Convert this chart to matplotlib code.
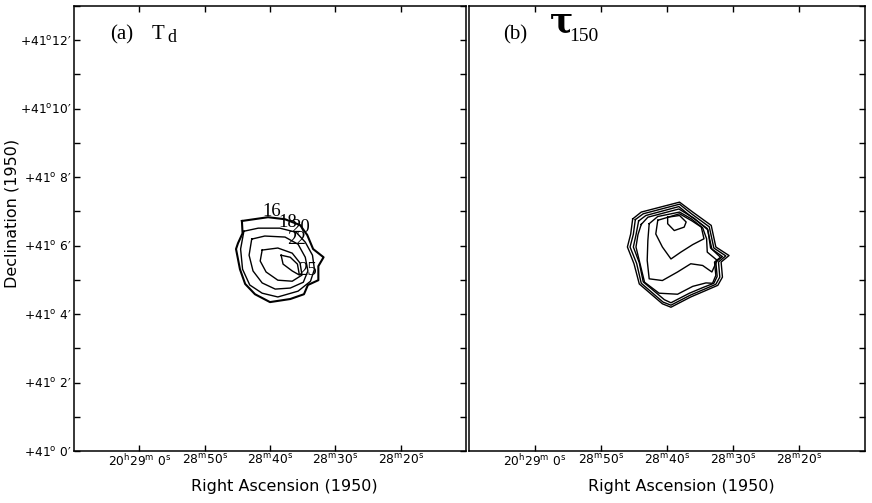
import matplotlib
matplotlib.use("Agg")
import matplotlib.pyplot as plt
import numpy as np

# RA in seconds past 20h28m, Dec in arcmin past +41d
ra_ticks = [60, 50, 40, 30, 20]
ra_labels = [r"20$^{\rm h}$29$^{\rm m}$ 0$^{\rm s}$", r"28$^{\rm m}$50$^{\rm s}$",
             r"28$^{\rm m}$40$^{\rm s}$", r"28$^{\rm m}$30$^{\rm s}$", r"28$^{\rm m}$20$^{\rm s}$"]
dec_ticks = [0, 2, 4, 6, 8, 10, 12]
dec_labels = [r"+41$^{\rm o}$ 0′", r"+41$^{\rm o}$ 2′", r"+41$^{\rm o}$ 4′", r"+41$^{\rm o}$ 6′",
              r"+41$^{\rm o}$ 8′", r"+41$^{\rm o}$10′", r"+41$^{\rm o}$12′"]
dec_minor = [1, 3, 5, 7, 9, 11, 13]

# (a) dust temperature contours
td_levels = ["16", "18", "20", "22", "25"]
td_ra = [
    [44.3, 40.3, 37.7, 35.4, 34.3, 33.4, 31.8, 32.6, 32.6, 34.2, 34.8, 36.9, 40.0, 42.3, 43.8, 44.6, 45.2, 44.9, 44.2],
    [44.0, 41.8, 38.5, 36.0, 34.6, 33.5, 33.2, 33.8, 35.7, 38.8, 41.2, 43.1, 44.2, 44.5],
    [42.8, 40.8, 37.7, 35.7, 34.6, 34.2, 34.9, 36.9, 39.2, 41.2, 42.6, 43.2],
    [41.2, 38.8, 36.6, 35.4, 35.1, 36.6, 38.8, 40.6, 41.5],
    [38.3, 36.9, 35.8, 35.5, 36.6, 38.0],
]
td_dec = [
    [6.72, 6.83, 6.77, 6.60, 6.31, 5.90, 5.66, 5.40, 4.99, 4.85, 4.58, 4.44, 4.35, 4.58, 4.88, 5.31, 5.90, 6.07, 6.36],
    [6.42, 6.51, 6.51, 6.39, 6.10, 5.72, 5.31, 4.96, 4.67, 4.50, 4.61, 4.85, 5.31, 5.90],
    [6.19, 6.28, 6.25, 6.04, 5.66, 5.26, 4.93, 4.76, 4.73, 4.91, 5.26, 5.72],
    [5.87, 5.93, 5.78, 5.49, 5.14, 4.96, 4.99, 5.23, 5.55],
    [5.72, 5.66, 5.46, 5.14, 5.26, 5.46],
]
td_label_ra = [39.7, 37.3, 35.4, 35.9, 34.3]
td_label_dec = [6.99, 6.68, 6.53, 6.19, 5.26]

# (b) optical depth contours
tau_ra = [
    [45.2, 43.9, 38.1, 36.1, 33.3, 32.6, 30.6, 31.8, 31.6, 32.3, 34.1, 36.4, 39.4, 40.7, 44.2, 45.0, 46.0, 45.5],
    [44.8, 43.6, 38.1, 36.3, 33.6, 32.9, 31.1, 32.2, 32.0, 32.6, 34.3, 36.5, 39.4, 40.6, 43.9, 44.6, 45.6, 45.1],
    [44.3, 43.2, 38.2, 36.5, 33.9, 33.2, 31.6, 32.6, 32.4, 32.9, 34.5, 36.6, 39.4, 40.4, 43.6, 44.2, 45.1, 44.7],
    [43.9, 42.9, 38.2, 35.9, 33.8, 33.4, 31.9, 32.8, 32.6, 33.1, 34.1, 36.1, 38.4, 41.2, 43.4, 44.1, 44.7, 44.4],
    [42.7, 41.4, 38.1, 36.3, 34.6, 34.0, 33.9, 32.4, 33.2, 34.6, 36.4, 38.4, 40.7, 42.7, 43.0, 42.9],
    [41.4, 38.1, 36.2, 34.8, 34.4, 36.1, 37.9, 39.4, 40.7, 41.7],
    [39.9, 38.1, 37.1, 37.4, 38.9, 39.9],
]
tau_dec = [
    [6.78, 6.98, 7.27, 6.98, 6.59, 5.96, 5.71, 5.52, 5.08, 4.84, 4.69, 4.50, 4.20, 4.30, 4.88, 5.47, 5.96, 6.34],
    [6.76, 6.93, 7.21, 6.93, 6.55, 5.93, 5.70, 5.52, 5.08, 4.87, 4.73, 4.55, 4.26, 4.35, 4.90, 5.48, 5.96, 6.33],
    [6.72, 6.88, 7.14, 6.87, 6.50, 5.90, 5.68, 5.52, 5.10, 4.90, 4.78, 4.61, 4.33, 4.42, 4.94, 5.50, 5.96, 6.31],
    [6.62, 6.83, 7.07, 6.80, 6.46, 5.93, 5.66, 5.52, 5.13, 4.90, 4.91, 4.81, 4.58, 4.61, 4.93, 5.48, 5.96, 6.32],
    [6.64, 6.85, 6.98, 6.78, 6.52, 6.20, 5.81, 5.57, 5.23, 5.42, 5.47, 5.23, 4.98, 5.03, 5.57, 6.15],
    [6.74, 6.93, 6.72, 6.54, 6.20, 6.03, 5.81, 5.61, 5.96, 6.34],
    [6.83, 6.88, 6.69, 6.54, 6.44, 6.64],
]

serif = ["Liberation Serif", "DejaVu Serif"]


def setup_axes(ax, ylabels=True):
    ax.set_xlim(70, 10)
    ax.set_ylim(0, 13)
    ax.set_xticks(ra_ticks, ra_labels)
    ax.set_yticks(dec_ticks, dec_labels if ylabels else [])
    ax.set_yticks(dec_minor, minor=True)
    ax.tick_params(which="both", direction="in", top=True, right=True, left=ylabels,
                   length=4.3, width=1, labelsize=8.8, pad=1.5)
    for sp in ax.spines.values():
        sp.set_linewidth(1.1)
    ax.set_xlabel("Right Ascension (1950)", fontsize=11.5)
    ax.xaxis.set_label_coords(0.536, -0.062)


def draw_closed(ax, xs, ys, lw):
    ax.plot(np.append(xs, xs[0]), np.append(ys, ys[0]), color="black", lw=lw)


fig = plt.figure(figsize=(8.72, 5.03), dpi=100)
ax_a = fig.add_axes([74 / 872, 52 / 503, 392 / 872, 445 / 503])
ax_b = fig.add_axes([469 / 872, 52 / 503, 396 / 872, 445 / 503])

setup_axes(ax_a)
setup_axes(ax_b, ylabels=False)
ax_a.set_ylabel("Declination (1950)", fontsize=11.5)
ax_a.yaxis.set_label_coords(-0.14, 0.533)

for i in range(len(td_levels)):
    draw_closed(ax_a, td_ra[i], td_dec[i], 1.5 if i == 0 else 1.0)
    ax_a.text(td_label_ra[i], td_label_dec[i], td_levels[i], fontsize=13.5, family=serif,
              ha="center", va="center")

for i in range(len(tau_ra)):
    draw_closed(ax_b, tau_ra[i], tau_dec[i], 1.0)

ax_a.text(0.092, 0.925, "(a)", transform=ax_a.transAxes, fontsize=15, family=serif)
ax_a.text(0.199, 0.925, "T", transform=ax_a.transAxes, fontsize=15, family=serif)
ax_a.text(0.237, 0.918, "d", transform=ax_a.transAxes, fontsize=13, family=serif)

ax_b.text(0.086, 0.925, "(b)", transform=ax_b.transAxes, fontsize=15, family=serif)
ax_b.text(0.203, 0.942, "τ", transform=ax_b.transAxes, fontsize=25, family="DejaVu Serif",
          fontweight="bold")
ax_b.text(0.252, 0.921, "150", transform=ax_b.transAxes, fontsize=14, family=serif)

fig.savefig("out.png", dpi=100)
